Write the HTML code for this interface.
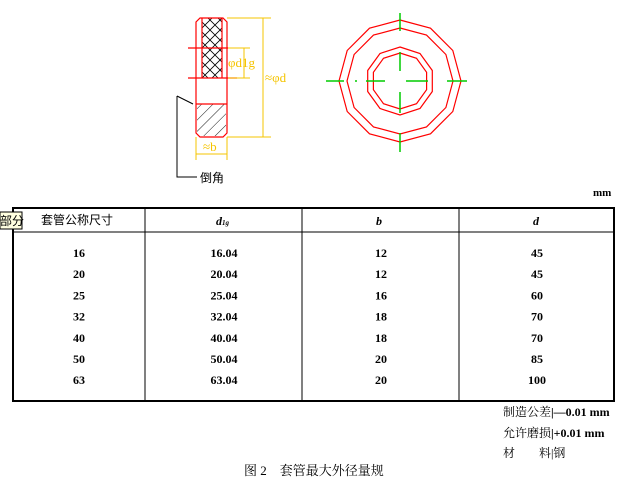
<!DOCTYPE html>
<html><head><meta charset="utf-8"><style>
body{margin:0;background:#fff;}
svg text{font-family:"Liberation Serif","Noto Serif CJK SC",serif;}
.c{font-family:"Liberation Sans","Noto Sans CJK SC",sans-serif;}
</style></head><body>
<svg width="626" height="480" viewBox="0 0 626 480" xmlns="http://www.w3.org/2000/svg">
<defs>
<pattern id="x" width="10" height="10" patternUnits="userSpaceOnUse"><path d="M0 0L10 10M10 0L0 10" stroke="#000" stroke-width="0.8"/></pattern>
<pattern id="h" width="8" height="8" patternUnits="userSpaceOnUse" patternTransform="rotate(45)"><path d="M0 0V8" stroke="#000" stroke-width="0.9"/></pattern>
</defs>
<rect x="202" y="18" width="20" height="60" fill="url(#x)"/>
<rect x="197" y="104" width="29" height="32" fill="url(#h)"/>
<g stroke="#f00" stroke-width="1.2" fill="none">
<path d="M200 18H223L227 22V133L223 137H200L196 133V22Z"/>
<path d="M202 18V78M222 18V78"/>
<path d="M188 48H228M188 78H237M196 104H227"/>
</g>
<g stroke="#f5c400" stroke-width="1" fill="none">
<path d="M227 18H271M227 137H271M263 18V137M228 48H250M228 78H250M244 48V78M196 137V160M227 137V160M196 154H227"/>
</g>
<g fill="#f5c400" font-size="13">
<text x="228" y="67">φd1g</text>
<text x="265" y="82">≈φd</text>
<text x="203" y="151">≈b</text>
</g>
<path d="M177 96L193 104M177 96V177H197" stroke="#000" fill="none"/>
<text x="200" y="182" font-size="12" class="c">倒角</text>
<g stroke="#0c0" stroke-width="1.5">
<path d="M400 13V31M400 52V71M400 92V113M400 133V152M326 81H344M355 81H357M366 81H385M406 81H428M447 81H467"/>
</g>
<text x="593" y="196" font-size="11" font-weight="bold">mm</text>
<rect x="13" y="208" width="601" height="193" fill="none" stroke="#000" stroke-width="2"/>
<path d="M145 208V401M302 208V401M459 208V401M13 232H614" stroke="#000"/>
<rect x="0" y="212" width="22" height="17" fill="#ffffe0" stroke="#000"/>
<text x="0" y="225" font-size="12" class="c">部分</text>
<text x="41" y="224" font-size="12" class="c">套管公称尺寸</text>
<g font-size="12" font-weight="bold" font-style="italic"><text x="216" y="225">d<tspan font-size="7">1g</tspan></text><text x="376" y="225">b</text><text x="533" y="225">d</text></g>
<g font-size="12" font-weight="bold" text-anchor="middle">
<g id="rows"></g>
</g>
<g font-size="12" class="c">
<text x="503" y="416">制造公差<tspan font-weight="bold" font-family="Liberation Serif">|—0.01 mm</tspan></text>
<text x="503" y="437">允许磨损<tspan font-weight="bold" font-family="Liberation Serif">|+0.01 mm</tspan></text>
<text x="503" y="457">材　　料|钢</text>
<text x="244" y="475" font-size="13">图 2　套管最大外径量规</text>
</g>
</svg>
<script>
var ns="http://www.w3.org/2000/svg",s=document.querySelector('svg');
function poly(r,n,off){var p=[];for(var i=0;i<n;i++){var a=2*Math.PI*i/n+off;p.push((400+r*Math.sin(a)).toFixed(1)+","+(81-r*Math.cos(a)).toFixed(1));}
var e=document.createElementNS(ns,'polygon');e.setAttribute('points',p.join(' '));e.setAttribute('stroke','#f00');e.setAttribute('fill','none');e.setAttribute('stroke-width','1.2');s.insertBefore(e,s.querySelector('g[stroke="#0c0"]'));}
poly(61,12,0);poly(53,12,0);poly(34,10,0);poly(28,10,0);
var d=[["16","16.04","12","45"],["20","20.04","12","45"],["25","25.04","16","60"],["32","32.04","18","70"],["40","40.04","18","70"],["50","50.04","20","85"],["63","63.04","20","100"]];
var xs=[79,224,381,537],g=document.getElementById('rows');
d.forEach(function(r,i){r.forEach(function(v,j){var t=document.createElementNS(ns,'text');t.setAttribute('x',xs[j]);t.setAttribute('y',257+i*21.2);t.textContent=v;g.appendChild(t);});});
</script>
</body></html>
